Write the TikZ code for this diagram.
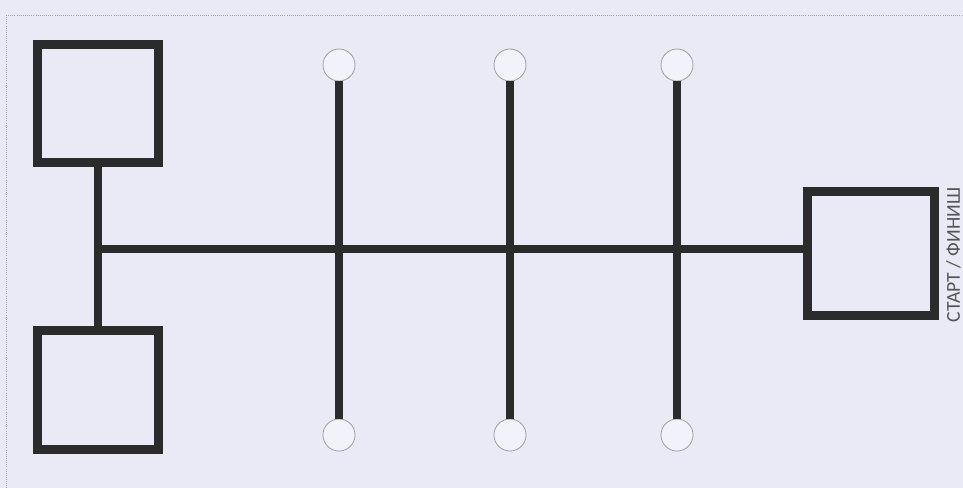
\documentclass[tikz,border=0pt]{standalone}
\usepackage{fontspec}
\setmainfont{Carlito}
\usetikzlibrary{positioning}
\definecolor{paper}{RGB}{233,234,246}
\definecolor{ink}{RGB}{43,43,43}
\definecolor{rim}{RGB}{160,160,165}

\begin{document}
\begin{tikzpicture}[
    x=0.025cm, y=-0.025cm,
    box/.style={draw=ink, line width=0.225cm, fill=paper, minimum width=3.025cm, minimum height=2.95cm, inner sep=0pt},
    tip/.style={circle, draw=rim, line width=0.6pt, fill=paper!60!white, minimum size=0.8cm, inner sep=0pt},
    bar/.style={draw=ink, line width=0.2cm},
    font=\fontsize{14}{16}\selectfont
]
\fill[paper] (0,0) rectangle (963,488);
\useasboundingbox (0,0) rectangle (963,488);
\draw[rim, densely dotted, line width=0.5pt] (6,15) -- (963,15) (6,15) -- (6,488);

\node[box] (pa) at (98,103.5) {};
\node[box] (pb) at (98,390) {};
\node[box, minimum width=3.175cm, minimum height=3.1cm] (fin) at (871,253.5) {};
\node[rotate=90, anchor=north, inner sep=0pt, text=ink!80] (lbl) at (946,255) {СТАРТ / ФИНИШ};

\coordinate (j) at (97,249);
\foreach \i/\x in {1/339, 2/510, 3/677} {
  \node[tip] (t\i) at (\x,65) {};
  \node[tip] (b\i) at (\x,435) {};
  \draw[bar] (t\i) -- (b\i);
}
\draw[bar] (pa) -- (pb);
\draw[bar] (j) -- (j -| fin.west);
\end{tikzpicture}
\end{document}
